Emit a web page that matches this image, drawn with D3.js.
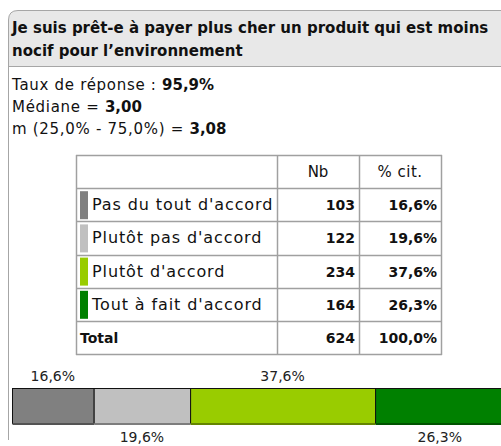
<!DOCTYPE html>
<html>
<head>
<meta charset="utf-8">
<script src="https://cdn.jsdelivr.net/npm/d3@7"></script>
<style>
  body { margin: 0; background: #fff; }
  svg { display: block; font-family: "DejaVu Sans", sans-serif; }
</style>
</head>
<body>
<svg id="chart" width="501" height="446"></svg>
<script>
// data
const categories = ["Pas du tout d'accord", "Plutôt pas d'accord", "Plutôt d'accord", "Tout à fait d'accord"];
const counts = [103, 122, 234, 164];
const percents = [16.6, 19.6, 37.6, 26.3];
const colors = ["#808080", "#c0c0c0", "#99cc00", "#008000"];
const titleLines = ["Je suis prêt-e à payer plus cher un produit qui est moins", "nocif pour l’environnement"];
const totalCount = 624, totalPct = 100.0;

const fmtPct = v => v.toFixed(1).replace('.', ',') + '%';

const svg = d3.select('#chart');

// frame
svg.append('path')
    .attr('d', 'M8.5,440 L8.5,20 Q8.5,10.5 18,10.5 L520,10.5 L520,460')
    .attr('fill', '#e8e8e8')
    .attr('stroke', '#a6a6a6');
svg.append('rect')
    .attr('x', 9).attr('y', 67).attr('width', 520).attr('height', 400)
    .attr('fill', '#fff');
svg.append('line')
    .attr('x1', 9).attr('x2', 520).attr('y1', 66.5).attr('y2', 66.5)
    .attr('stroke', '#a6a6a6');
svg.append('line')
    .attr('x1', 8.5).attr('x2', 8.5).attr('y1', 67).attr('y2', 440)
    .attr('stroke', '#a6a6a6');

svg.selectAll('.title')
    .data(titleLines)
    .enter().append('text')
    .attr('x', 12)
    .attr('y', (d, i) => 33 + i * 23)
    .attr('font-size', 15)
    .attr('font-weight', 'bold')
    .attr('fill', '#111')
    .text(d => d);

// stats
let stats = [
    ['Taux de réponse : ', '95,9%'],
    ['Médiane = ', '3,00'],
    ['m (25,0% - 75,0%) = ', '3,08']
];
stats.forEach((s, i) => {
    let t = svg.append('text')
        .attr('x', 12).attr('y', 90 + i * 22)
        .attr('font-size', 15)
        .attr('letter-spacing', 0.7)
        .attr('fill', '#111');
    t.append('tspan').text(s[0]);
    t.append('tspan').attr('font-weight', 'bold').attr('letter-spacing', 0).text(s[1]);
});

// table
let colX = [76, 277, 359, 441];
let rowY = d3.range(7).map(i => 155 + i * 33.2);
let tbl = svg.append('g').attr('class', 'table');
let lineCol = '#a0a0a0';

rowY.forEach(y => {
    tbl.append('line')
        .attr('x1', colX[0]).attr('x2', colX[3] + 1)
        .attr('y1', Math.round(y) + 0.5).attr('y2', Math.round(y) + 0.5)
        .attr('stroke', lineCol).attr('stroke-width', 1.5);
});
colX.forEach(x => {
    tbl.append('line')
        .attr('x1', x + 0.5).attr('x2', x + 0.5)
        .attr('y1', Math.round(rowY[0])).attr('y2', Math.round(rowY[6]) + 1)
        .attr('stroke', lineCol).attr('stroke-width', 1.5);
});

tbl.append('text').attr('x', (colX[1] + colX[2]) / 2).attr('y', rowY[0] + 22)
    .attr('text-anchor', 'middle').attr('font-size', 15).attr('fill', '#111').text('Nb');
tbl.append('text').attr('x', (colX[2] + colX[3]) / 2).attr('y', rowY[0] + 22)
    .attr('text-anchor', 'middle').attr('font-size', 15).attr('letter-spacing', 0.5)
    .attr('fill', '#111').text('% cit.');

categories.forEach((c, i) => {
    let y0 = rowY[i + 1];
    tbl.append('rect')
        .attr('x', 80).attr('y', y0 + 3).attr('width', 8).attr('height', 28)
        .attr('fill', colors[i]);
    tbl.append('text').attr('x', 92).attr('y', y0 + 22)
        .attr('font-size', 16).attr('letter-spacing', 0.9).attr('fill', '#111').text(c);
    tbl.append('text').attr('x', colX[2] - 4).attr('y', y0 + 22)
        .attr('text-anchor', 'end').attr('font-size', 14).attr('font-weight', 'bold')
        .attr('fill', '#111').text(counts[i]);
    tbl.append('text').attr('x', colX[3] - 4).attr('y', y0 + 22)
        .attr('text-anchor', 'end').attr('font-size', 14).attr('font-weight', 'bold')
        .attr('fill', '#111').text(fmtPct(percents[i]));
});
let yT = rowY[5];
tbl.append('text').attr('x', 80).attr('y', yT + 22)
    .attr('font-size', 14).attr('font-weight', 'bold').attr('fill', '#111').text('Total');
tbl.append('text').attr('x', colX[2] - 4).attr('y', yT + 22)
    .attr('text-anchor', 'end').attr('font-size', 14).attr('font-weight', 'bold')
    .attr('fill', '#111').text(totalCount);
tbl.append('text').attr('x', colX[3] - 4).attr('y', yT + 22)
    .attr('text-anchor', 'end').attr('font-size', 14).attr('font-weight', 'bold')
    .attr('fill', '#111').text(fmtPct(totalPct));

// stacked bar
let x = d3.scaleLinear().domain([0, 100]).range([12, 504]);
let cum = 0;
let segs = percents.map((p, i) => {
    let s = {start: cum, end: cum + p, pct: p, color: colors[i], i};
    cum += p;
    return s;
});

let barY = 388, barH = 35;
let bar = svg.append('g').attr('class', 'bar');
bar.selectAll('rect')
    .data(segs)
    .enter().append('rect')
    .attr('x', d => x(d.start) + 0.5)
    .attr('y', barY + 0.5)
    .attr('width', d => x(d.end) - x(d.start))
    .attr('height', barH)
    .attr('fill', d => d.color)
    .attr('stroke', '#111');
bar.selectAll('.shadow')
    .data(segs)
    .enter().append('rect')
    .attr('class', 'shadow')
    .attr('x', d => x(d.start) + 0.5)
    .attr('y', barY + barH)
    .attr('width', d => x(d.end) - x(d.start))
    .attr('height', 2)
    .attr('fill', d => d3.color(d.color).darker(1.2));

bar.selectAll('.lbl')
    .data(segs)
    .enter().append('text')
    .attr('class', 'lbl')
    .attr('x', d => (x(d.start) + x(d.end)) / 2)
    .attr('y', d => d.i % 2 == 0 ? barY - 7 : barY + barH + 19)
    .attr('text-anchor', 'middle')
    .attr('font-size', 14)
    .attr('fill', '#222')
    .text(d => fmtPct(d.pct));
</script>
</body>
</html>
